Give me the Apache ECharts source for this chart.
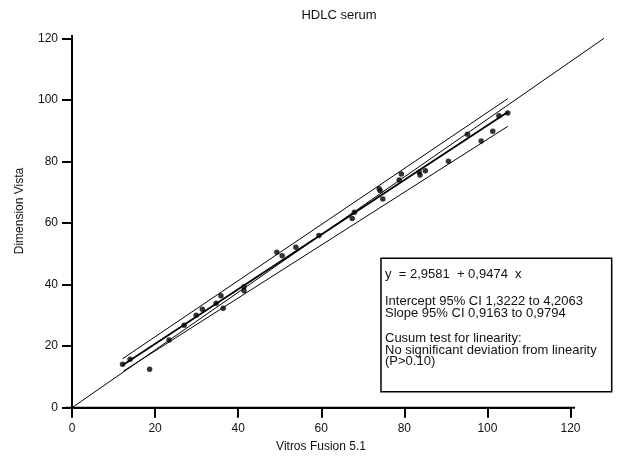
<!DOCTYPE html>
<html>
<head>
<meta charset="utf-8">
<script src="https://cdn.jsdelivr.net/npm/echarts@6/dist/echarts.min.js"></script>
<style>html,body{margin:0;padding:0;background:#fff}#c{width:618px;height:461px}</style>
</head>
<body>
<div id="c"></div>
<script>
// Measured points: [Vitros Fusion 5.1, Dimension Vista]
const pointsX = [11.4,13.1,17.5,21.9,25.3,28.0,29.4,32.5,33.6,34.1,38.8,38.8,46.2,47.4,50.5,55.7,63.2,63.7,69.3,69.5,70.1,73.8,74.3,78.3,78.5,79.7,84.9,89.2,92.3,94.9,96.3,98.3];
const pointsY = [14.1,15.7,12.5,22.0,26.8,30.0,32.0,33.9,36.4,32.3,39.3,38.0,50.5,49.4,52.1,55.9,61.5,63.5,71.1,70.5,67.8,74.0,75.9,76.6,75.6,77.0,80.1,88.8,86.6,89.8,94.8,95.7];
// Line endpoints
const regressionLine = [[11.4, 13.76], [98.3, 96.09]];
const upperCILine = [[11.4, 15.9], [98.3, 100.4]];
const lowerCILine = [[11.6, 11.9], [98.3, 91.4]];
const identityLine = [[0, 0], [120, 120]];
const tickValues = [0, 20, 40, 60, 80, 100, 120];
const boxLines = [
  'y  = 2,9581  + 0,9474  x',
  'Intercept 95% CI 1,3222 to 4,2063',
  'Slope 95% CI 0,9163 to 0,9794',
  'Cusum test for linearity:',
  'No significant deviation from linearity',
  '(P>0.10)'
];
const titleText = 'HDLC serum';
const xName = 'Vitros Fusion 5.1';
const yName = 'Dimension Vista';

const FONT = 'Liberation Sans, Arial, sans-serif';
const chart = echarts.init(document.getElementById('c'), null, {renderer: 'canvas'});
const gTop = 38.3, gBottom = 407.7, gLeft = 72;
const axisStyle = {
  min: 0, max: 120, interval: 20,
  axisLine: {show: true, onZero: false, lineStyle: {color: '#000', width: 2}},
  axisTick: {show: true, inside: false, length: 10, lineStyle: {color: '#000', width: 2}},
  splitLine: {show: false}
};
const hidden = {min: 0, max: 120, show: false, splitLine: {show: false}};
const pts = pointsX.map((x, i) => [x, pointsY[i]]);
const boxLineY = [274, 301.7, 313.3, 338.3, 350, 361.7];

const graphics = [
  {type: 'text', x: 339, y: 15, style: {text: titleText, font: '13px ' + FONT, fill: '#111', align: 'center', verticalAlign: 'middle'}},
  {type: 'text', x: 321, y: 447, style: {text: xName, font: '12px ' + FONT, fill: '#111', align: 'center', verticalAlign: 'middle'}},
  {type: 'text', x: 20, y: 211, rotation: Math.PI / 2, style: {text: yName, font: '12px ' + FONT, fill: '#111', align: 'center', verticalAlign: 'middle'}},
  {type: 'rect', shape: {x: 381, y: 258.3, width: 230.7, height: 133.4}, style: {fill: '#fff', stroke: '#000', lineWidth: 1.5}, z: 10},
  // axis line overshoot as in reference
  {type: 'line', shape: {x1: 66, y1: 407.7, x2: 575, y2: 407.7}, style: {stroke: '#000', lineWidth: 2}, z: 5},
  {type: 'line', shape: {x1: 72, y1: 35, x2: 72, y2: 412}, style: {stroke: '#000', lineWidth: 2}, z: 5}
];
boxLines.forEach((t, i) => {
  graphics.push({type: 'text', x: 385, y: boxLineY[i], z: 11, style: {text: t, font: '13px ' + FONT, fill: '#111', verticalAlign: 'middle'}});
});

chart.setOption({
  animation: false,
  backgroundColor: '#fff',
  grid: [
    {left: gLeft, top: gTop, width: 498.5, height: gBottom - gTop},
    {left: gLeft, top: gTop, width: 532, height: gBottom - gTop}
  ],
  xAxis: [
    Object.assign({type: 'value', gridIndex: 0}, axisStyle, {axisLabel: {color: '#111', fontSize: 12, fontFamily: FONT, margin: 15}}),
    Object.assign({type: 'value', gridIndex: 1}, hidden)
  ],
  yAxis: [
    Object.assign({type: 'value', gridIndex: 0}, axisStyle, {axisLabel: {color: '#111', fontSize: 12, fontFamily: FONT, margin: 14}}),
    Object.assign({type: 'value', gridIndex: 1}, hidden)
  ],
  graphic: graphics,
  series: [
    {type: 'line', xAxisIndex: 1, yAxisIndex: 1, data: identityLine, symbol: 'none', lineStyle: {color: '#000', width: 1}},
    {type: 'line', xAxisIndex: 1, yAxisIndex: 1, data: upperCILine, symbol: 'none', lineStyle: {color: '#000', width: 1}},
    {type: 'line', xAxisIndex: 1, yAxisIndex: 1, data: lowerCILine, symbol: 'none', lineStyle: {color: '#000', width: 1}},
    {type: 'line', xAxisIndex: 1, yAxisIndex: 1, data: regressionLine, symbol: 'none', lineStyle: {color: '#000', width: 1.8}},
    {type: 'scatter', xAxisIndex: 1, yAxisIndex: 1, data: pts, symbol: 'circle', symbolSize: 5.5, itemStyle: {color: '#000'}}
  ]
});
</script>
</body>
</html>
